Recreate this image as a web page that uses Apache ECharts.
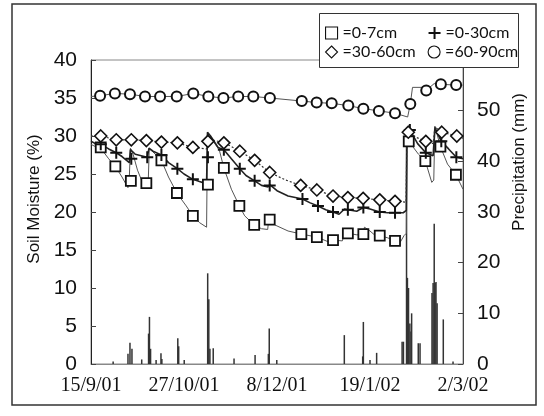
<!DOCTYPE html>
<html><head><meta charset="utf-8">
<script src="https://cdn.jsdelivr.net/npm/echarts@6/dist/echarts.min.js"></script>
<style>html,body{margin:0;padding:0;background:#fff}#c{width:544px;height:416px}</style>
</head><body><div id="c"></div>
<script>
// x axis: days since 15/9/01
const xTickLabels = ['15/9/01', '27/10/01', '8/12/01', '19/1/02', '2/3/02'];
const leftTicks = [0, 5, 10, 15, 20, 25, 30, 35, 40];
const rightTicks = [0, 10, 20, 30, 40, 50];
const seriesNames = ['0-7cm', '0-30cm', '30-60cm', '60-90cm'];

// continuous soil moisture traces [day, %]
const line0_7 = [[0,28.9],[2,28.6],[4.4,28.4],[8,27.0],[11,26.0],[14,24.6],[16.7,23.2],[17.3,24.5],[17.8,28.4],[19,27.6],[21,25.5],[23.5,23.7],[25.8,23.5],[26.3,28.3],[28,27.9],[31.8,26.8],[35,24.6],[38.8,22.5],[40,22.0],[43,20.8],[46,19.5],[49,18.6],[52.2,18.0],[52.6,30.0],[54.5,29.6],[58,28.1],[60,25.8],[63.4,23.0],[67,20.8],[69.4,19.5],[73.7,18.3],[77,17.8],[79.8,17.7],[80.3,19.2],[83,18.3],[89,17.5],[95,17.1],[102,16.7],[107,16.1],[109.3,16.3],[113.5,16.2],[114.5,17.1],[116,17.2],[120,17.0],[122.8,17.0],[123.5,18.0],[126,17.5],[128,17.0],[130.4,16.9],[134,16.6],[137.3,16.2],[139.6,16.0],[141.4,16.9],[142.4,17.2],[142.7,30.8],[143.5,29.3],[147.9,27.6],[151,26.7],[153.9,23.9],[154.8,24.2],[155.3,31.3],[157.8,28.6],[161,26.3],[164.8,24.9],[168,23.0]];
const line0_30 = [[0,29.3],[2,29.0],[4.4,28.9],[8,28.3],[11.4,27.8],[14,27.3],[17.3,26.5],[17.8,28.2],[20,27.6],[25.4,27.2],[26.2,28.4],[28,28.0],[31.8,27.5],[35,26.5],[39,25.7],[42,25.0],[46,24.3],[49,24.0],[52.2,23.7],[52.6,30.5],[54,30.0],[57.4,28.5],[60,28.2],[63.4,27.0],[67.2,25.7],[70,24.8],[73.9,24.1],[77,23.5],[80,23.3],[80.7,23.6],[84,22.8],[89,22.1],[95.5,21.7],[99,21.2],[102.5,20.8],[106,20.3],[109.3,20.0],[112,19.7],[114.5,20.4],[116,20.3],[120,20.1],[123,20.6],[126,20.4],[130.4,20.0],[134,19.9],[137.3,19.9],[141,19.9],[142.4,20.2],[142.7,31.0],[144,30.8],[147.5,29.0],[151.2,27.8],[154.5,27.4],[155.3,31.1],[158.2,29.3],[161.5,28.3],[165,27.2],[168,27.0]];
const line30_60 = [[0,30.0],[4.4,30.0],[11.4,29.5],[18.2,29.5],[25,29.4],[31.8,29.2],[39,29.1],[46,28.5],[52.2,28.3],[52.6,30.2],[53.5,29.6],[56,29.4],[60,29.1],[63.5,28.6],[67.2,28.0],[73.9,26.8],[80.7,25.2],[88,24.2],[94.7,23.5],[102,22.9],[109.3,22.1],[116,21.9],[122.9,21.8],[130.4,21.6],[137.3,21.4],[142.3,21.3],[142.7,30.8],[143.3,30.5],[147,29.8],[151.2,29.3],[154.6,29.0],[155.3,31.2],[158.4,30.5],[165.2,30.0],[168,29.7]];
const line60_90 = [[0,35.2],[4.1,35.3],[10.8,35.6],[17.6,35.5],[24.4,35.2],[31.2,35.2],[38.7,35.2],[46.2,35.6],[53,35.2],[59.8,35.0],[66.5,35.2],[73.3,35.2],[80.8,35.0],[95.2,34.6],[101.9,34.4],[108.7,34.3],[116.2,34.0],[123,33.6],[130,33.3],[137.3,33.0],[143,32.5],[144.2,34.2],[145.2,36.4],[149.5,36.4],[151.4,36.0],[155,36.9],[158,36.8],[164.9,36.7],[167.8,36.7]];

// weekly marked readings [day, %]
const mark0_7 = [[4.4,28.5],[11,26.0],[18,24.1],[25,23.8],[31.8,26.8],[38.8,22.5],[46,19.5],[52.8,23.6],[60,25.8],[67,20.8],[73.7,18.3],[80.7,19.0],[95,17.1],[102,16.7],[109.3,16.3],[116,17.2],[123,17.1],[130.4,16.9],[137.3,16.2],[143.5,29.3],[151,26.7],[157.8,28.6],[164.8,24.9]];
const mark0_30 = [[4.4,28.9],[11.4,27.8],[18.2,27.0],[25.4,27.2],[31.8,27.5],[39,25.7],[46,24.3],[52.8,27.2],[60,28.2],[67.2,25.7],[73.9,24.1],[80.7,23.5],[95.5,21.7],[102.5,20.8],[109.3,20.0],[116,20.3],[123,20.6],[130.4,20.0],[137.3,19.9],[144,30.8],[151.2,27.8],[158.2,29.3],[165,27.2]];
const mark30_60 = [[4.4,30.0],[11.4,29.5],[18.2,29.5],[25,29.4],[31.8,29.2],[39,29.1],[46,28.5],[52.8,29.3],[60,29.1],[67.2,28.0],[73.9,26.8],[80.7,25.2],[94.7,23.5],[102,22.9],[109.3,22.1],[116,21.9],[122.9,21.8],[130.4,21.6],[137.3,21.4],[143.3,30.5],[151.2,29.3],[158.4,30.5],[165.2,30.0]];
const mark60_90 = [[4.1,35.3],[10.8,35.6],[17.6,35.5],[24.4,35.2],[31.2,35.2],[38.7,35.2],[46.2,35.6],[53,35.2],[59.8,35.0],[66.5,35.2],[73.3,35.2],[80.8,35.0],[95.2,34.6],[101.9,34.4],[108.7,34.3],[116.2,34.0],[123,33.6],[130,33.3],[137.3,33.0],[144.2,34.2],[151.4,36.0],[158,36.8],[164.9,36.7]];

// daily precipitation [day, mm]
const precip = [[10,0.5],[16.7,2.0],[17.6,4.2],[18.5,3.0],[22.9,0.9],[26,6.0],[26.4,9.3],[26.9,3.0],[29.4,0.8],[31.6,2.1],[32,1.0],[39.2,5.1],[39.6,3.5],[42.1,0.8],[52.7,17.9],[53.2,12.8],[53.7,3.0],[55.2,3.1],[64.6,1.1],[74.1,1.8],[80.1,2.0],[80.5,7.0],[83.9,0.8],[114.4,5.7],[122.7,1.5],[123,8.3],[126,0.8],[129,2.2],[140.5,4.4],[141.1,4.4],[142.5,45],[142.9,17],[143.4,15],[144,8],[144.5,6.4],[144.8,10.0],[147.8,4.1],[148.6,4.1],[154,14],[154.5,16],[155,27.7],[155.4,16],[155.8,16.2],[156.3,12],[159.1,8.8],[163.5,0.5]];

const INK = '#111';
const sans = 'Liberation Sans, Arial, sans-serif';
const chart = echarts.init(document.getElementById('c'));
const plusPath = 'path://M5,0L5,10M0,5L10,5';

function legendItem(name, icon) {
  const plus = icon === plusPath;
  return { name: name, icon: icon, itemStyle: { color: plus ? 'rgba(0,0,0,0)' : '#fff', borderColor: INK, borderWidth: plus ? 2 : 1.1 } };
}
function markSeries(name, data, symbol, size, bw) {
  return {
    name: name, type: 'scatter', data: data, symbol: symbol, symbolSize: size, z: 5,
    itemStyle: { color: symbol === plusPath ? 'rgba(0,0,0,0)' : '#fff', borderColor: INK, borderWidth: bw, opacity: 1 },
    emphasis: { disabled: true }
  };
}
function traceSeries(name, data, style) {
  return {
    name: name, type: 'line', data: data, showSymbol: false, symbol: 'none', z: 3,
    lineStyle: style, emphasis: { disabled: true }
  };
}

const legendText = { fontFamily: 'Lato', fontSize: 16, color: INK, width: 75, lineHeight: 18 };

chart.setOption({
  animation: false,
  backgroundColor: '#fff',
  grid: { left: 91, right: 81, top: 60, bottom: 52, show: true, borderColor: '#888', borderWidth: 1, containLabel: false },
  legend: [
    { left: 325, top: 24, orient: 'horizontal', itemWidth: 12, itemHeight: 12, itemGap: 10, padding: 0, z: 200,
      selectedMode: false, textStyle: legendText, formatter: n => '=' + n,
      data: [legendItem(seriesNames[0], 'rect'), legendItem(seriesNames[1], plusPath)] },
    { left: 325, top: 43, orient: 'horizontal', itemWidth: 12, itemHeight: 12, itemGap: 10, padding: 0, z: 200,
      selectedMode: false, textStyle: legendText, formatter: n => '=' + n,
      data: [legendItem(seriesNames[2], 'diamond'), legendItem(seriesNames[3], 'circle')] }
  ],
  graphic: [
    { type: 'rect', z: 100, shape: { x: 12, y: 4, width: 524, height: 401 }, style: { fill: 'none', stroke: '#333', lineWidth: 1.5 } },
    { type: 'rect', z: 100, shape: { x: 319.5, y: 13.5, width: 199, height: 54 }, style: { fill: '#fff', stroke: '#333', lineWidth: 1 } }
  ],
  xAxis: {
    type: 'value', min: 0, max: 168, interval: 42,
    axisLine: { show: true, lineStyle: { color: '#888', width: 1 } },
    axisTick: { show: false }, splitLine: { show: false },
    axisLabel: { margin: 12, fontFamily: 'Liberation Serif', fontSize: 20, color: INK,
      formatter: v => xTickLabels[Math.round(v / 42)] || '' }
  },
  yAxis: [
    { type: 'value', min: leftTicks[0], max: leftTicks[leftTicks.length - 1], interval: 5,
      name: 'Soil Moisture (%)', nameLocation: 'middle', nameRotate: 90, nameGap: 46,
      nameTextStyle: { fontFamily: sans, fontSize: 17, color: INK, padding: [0, 0, 0, 26] },
      axisLine: { show: true, lineStyle: { color: '#222', width: 1 } },
      axisTick: { show: true, inside: true, length: 5, lineStyle: { color: '#444' } },
      splitLine: { show: false },
      axisLabel: { margin: 14, fontFamily: sans, fontSize: 21, color: INK } },
    { type: 'value', min: 0, max: 60, interval: 10, position: 'right',
      name: 'Precipitation (mm)', nameLocation: 'middle', nameRotate: 90, nameGap: 48,
      nameTextStyle: { fontFamily: sans, fontSize: 17, color: INK, padding: [0, 0, 0, 100] },
      axisLine: { show: true, lineStyle: { color: '#444', width: 1 } },
      axisTick: { show: true, inside: true, length: 5, lineStyle: { color: '#444' } },
      splitLine: { show: false },
      axisLabel: { margin: 14, fontFamily: sans, fontSize: 21, color: INK,
        formatter: v => rightTicks.indexOf(v) >= 0 ? String(v) : '' } }
  ],
  series: [
    { name: 'Precipitation', type: 'bar', yAxisIndex: 1, data: precip, barWidth: 1.5, z: 1,
      itemStyle: { color: '#333' }, emphasis: { disabled: true } },
    traceSeries('0-7cm trace', line0_7, { color: '#555', width: 1 }),
    traceSeries('0-30cm trace', line0_30, { color: '#222', width: 1.6 }),
    traceSeries('30-60cm trace', line30_60, { color: '#333', width: 1.2, type: [2, 2] }),
    traceSeries('60-90cm trace', line60_90, { color: '#555', width: 1 }),
    markSeries(seriesNames[0], mark0_7, 'rect', 10, 1.8),
    markSeries(seriesNames[1], mark0_30, plusPath, 12, 2),
    markSeries(seriesNames[2], mark30_60, 'diamond', 12, 1.6),
    markSeries(seriesNames[3], mark60_90, 'circle', 10, 2)
  ]
});
</script></body></html>
